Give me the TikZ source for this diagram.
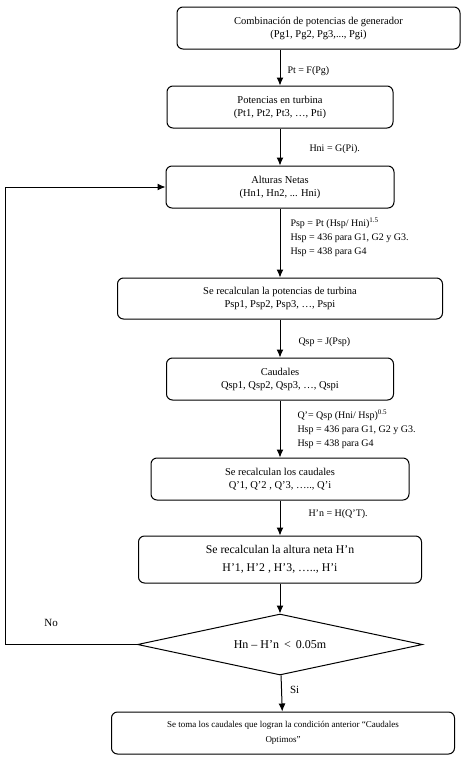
\documentclass[tikz,border=0pt]{standalone}
\usepackage{fontspec}
\setmainfont{Liberation Serif}
\usetikzlibrary{shapes.geometric, arrows.meta, positioning}

\begin{document}
\begin{tikzpicture}[
    x=1pt, y=-1pt,
    node distance=37pt,
    box/.style={rectangle, draw=black, fill=white, line width=1pt, rounded corners=6pt,
                minimum width=228pt, minimum height=42pt, align=center, inner sep=2pt,
                font=\fontsize{10.5}{13}\selectfont},
    bigbox/.style={box, minimum height=47pt, font=\fontsize{11.8}{18}\selectfont},
    smallbox/.style={box, font=\fontsize{9}{14.5}\selectfont},
    decision/.style={diamond, draw=black, line width=1pt, aspect=4.67, inner sep=0pt,
                minimum width=285pt, minimum height=61pt, font=\fontsize{12}{14}\selectfont},
    arrow/.style={-{Latex[length=8pt, width=7pt]}, line width=1pt},
    lbl/.style={font=\fontsize{10}{14}\selectfont, align=left, inner sep=0pt},
    biglbl/.style={font=\fontsize{11}{13}\selectfont, inner sep=0pt}
]

\useasboundingbox (0,0) rectangle (462,764);

% Nodes
\node[box, minimum width=283pt] (gen) at (318.5,28) {Combinación de potencias de generador\\(Pg1, Pg2, Pg3,..., Pgi)};
\node[box, minimum width=226pt] (turb) at (280,107) {Potencias en turbina\\(Pt1, Pt2, Pt3, …, Pti)};
\node[box] (alt) [below=of turb] {Alturas Netas\\(Hn1, Hn2, ... Hni)};
\node[box, minimum width=325pt, minimum height=41pt] (psp) [below=69pt of alt] {Se recalculan la potencias de turbina\\Psp1, Psp2, Psp3, …, Pspi};
\node[box, minimum width=227pt] (caud) [below=38pt of psp] {Caudales\\Qsp1, Qsp2, Qsp3, …, Qspi};
\node[box, minimum width=258pt] (recq) [below=57pt of caud] {Se recalculan los caudales\\Q’1, Q’2 , Q’3, ….., Q’i};
\node[bigbox, minimum width=283pt] (rech) [below=35pt of recq] {Se recalculan la altura neta H’n\\H’1, H’2 , H’3, ….., H’i};
\node[decision] (dec) [below=30pt of rech] {Hn – H’n \,<\, 0.05m};
\node[smallbox, minimum width=343pt, xshift=3pt] (fin) [below=36pt of dec] {Se toma los caudales que logran la condición anterior “Caudales\\Optimos”};
\coordinate (leftrail) at (5,0);

% Arrows
\draw[arrow] (turb.north |- gen.south) -- node[lbl, right=7pt, pos=0.6] (lblpt) {Pt = F(Pg)} (turb.north);
\draw[arrow] (turb) -- node[lbl, right=29pt, pos=0.55] (lblhni) {Hni = G(Pi).} (alt);
\draw[arrow] (alt) -- node[lbl, right=10pt, pos=0.42] (lblpsp) {Psp = Pt (Hsp/ Hni)\textsuperscript{1.5}\\Hsp = 436 para G1, G2 y G3.\\Hsp = 438 para G4} (psp);
\draw[arrow] (psp) -- node[lbl, right=18pt, pos=0.6] (lblqsp) {Qsp = J(Psp)} (caud);
\draw[arrow] (caud) -- node[lbl, right=17pt] (lblq) {Q’= Qsp (Hni/ Hsp)\textsuperscript{0.5}\\Hsp = 436 para G1, G2 y G3.\\Hsp = 438 para G4} (recq);
\draw[arrow] (recq) -- node[lbl, right=28pt, pos=0.4] (lblhn) {H’n = H(Q’T).} (rech);
\draw[arrow] (rech) -- (dec);
\draw[arrow] (dec) -- node[biglbl, right=8pt, pos=0.4] (lblsi) {Si} (fin);
\draw[arrow] (dec.west) -- node[biglbl, above=17pt, pos=0.65] (lblno) {No} (dec.west -| leftrail) |- (alt.west);

\end{tikzpicture}
\end{document}
